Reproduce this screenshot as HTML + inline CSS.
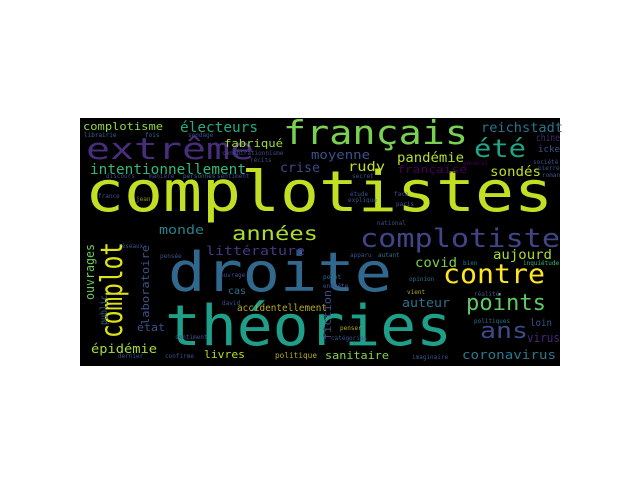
<!DOCTYPE html>
<html><head><meta charset="utf-8"><style>
html,body{margin:0;padding:0;background:#fff;width:640px;height:480px;overflow:hidden}
svg{display:block}
text{font-family:"DejaVu Sans Mono","Liberation Mono",monospace}
</style></head><body>
<svg width="640" height="480" viewBox="0 0 640 480">
<rect x="80" y="118" width="480" height="248" fill="#000"/>
<g>
<text x="85" y="211" font-size="56" fill="#c2df23" textLength="468" lengthAdjust="spacingAndGlyphs">complotistes</text>
<text x="168" y="291" font-size="54" fill="#31688e" textLength="224" lengthAdjust="spacingAndGlyphs">droite</text>
<text x="165" y="345" font-size="56" fill="#1f9e89" textLength="287" lengthAdjust="spacingAndGlyphs">théories</text>
<text x="283" y="144" font-size="33" fill="#7ad151" textLength="185" lengthAdjust="spacingAndGlyphs">français</text>
<text x="86" y="159" font-size="29" fill="#472d7b" textLength="168" lengthAdjust="spacingAndGlyphs">extrême</text>
<text x="360" y="247" font-size="26" fill="#414487" textLength="200" lengthAdjust="spacingAndGlyphs">complotiste</text>
<text transform="translate(122,338) rotate(-90)" font-size="30" fill="#dde318" textLength="96" lengthAdjust="spacingAndGlyphs">complot</text>
<text x="443" y="283" font-size="27" fill="#fde725" textLength="102" lengthAdjust="spacingAndGlyphs">contre</text>
<text x="466" y="310" font-size="22" fill="#5ec962" textLength="80" lengthAdjust="spacingAndGlyphs">points</text>
<text x="480" y="338" font-size="22" fill="#3e4a89" textLength="48" lengthAdjust="spacingAndGlyphs">ans</text>
<text x="474" y="157" font-size="25" fill="#20a386" textLength="52" lengthAdjust="spacingAndGlyphs">été</text>
<text x="232" y="240" font-size="19" fill="#addc30" textLength="86" lengthAdjust="spacingAndGlyphs">années</text>
<text x="90" y="174" font-size="14" fill="#35b779" textLength="156" lengthAdjust="spacingAndGlyphs">intentionnellement</text>
<text x="180" y="132" font-size="14" fill="#25ab82" textLength="78" lengthAdjust="spacingAndGlyphs">électeurs</text>
<text x="83" y="130" font-size="11" fill="#8fd744" textLength="80" lengthAdjust="spacingAndGlyphs">complotisme</text>
<text x="224" y="147" font-size="11" fill="#a0da39" textLength="59" lengthAdjust="spacingAndGlyphs">fabriqué</text>
<text x="280" y="172" font-size="13" fill="#3e4a89" textLength="40" lengthAdjust="spacingAndGlyphs">crise</text>
<text x="311" y="159" font-size="12" fill="#3b528b" textLength="59" lengthAdjust="spacingAndGlyphs">moyenne</text>
<text x="397" y="162" font-size="13" fill="#b5de2b" textLength="67" lengthAdjust="spacingAndGlyphs">pandémie</text>
<text x="481" y="132" font-size="13" fill="#2c728e" textLength="82" lengthAdjust="spacingAndGlyphs">reichstadt</text>
<text x="348" y="171" font-size="13" fill="#c2df23" textLength="37" lengthAdjust="spacingAndGlyphs">rudy</text>
<text x="490" y="176" font-size="13" fill="#bddf26" textLength="51" lengthAdjust="spacingAndGlyphs">sondés</text>
<text x="397" y="173" font-size="11" fill="#440154" textLength="70" lengthAdjust="spacingAndGlyphs">française</text>
<text x="536" y="141" font-size="10" fill="#3b2e70" textLength="24" lengthAdjust="spacingAndGlyphs">chine</text>
<text x="538" y="152" font-size="9" fill="#3b528b" textLength="22" lengthAdjust="spacingAndGlyphs">icke</text>
<text x="159" y="234" font-size="12" fill="#26828e" textLength="45" lengthAdjust="spacingAndGlyphs">monde</text>
<text x="206" y="255" font-size="12" fill="#443983" textLength="99" lengthAdjust="spacingAndGlyphs">littérature</text>
<text transform="translate(94,300) rotate(-90)" font-size="12" fill="#6ccd5a" textLength="56" lengthAdjust="spacingAndGlyphs">ouvrages</text>
<text transform="translate(107,325) rotate(-90)" font-size="10" fill="#365c8d" textLength="30" lengthAdjust="spacingAndGlyphs">public</text>
<text transform="translate(149,325) rotate(-90)" font-size="11" fill="#3b528b" textLength="80" lengthAdjust="spacingAndGlyphs">laboratoire</text>
<text transform="translate(331,340) rotate(-90)" font-size="11" fill="#3e4989" textLength="50" lengthAdjust="spacingAndGlyphs">fiction</text>
<text x="228" y="294" font-size="10" fill="#2c728e" textLength="18" lengthAdjust="spacingAndGlyphs">cas</text>
<text x="137" y="331" font-size="11" fill="#3b528b" textLength="28" lengthAdjust="spacingAndGlyphs">etat</text>
<text x="91" y="353" font-size="12" fill="#a5db36" textLength="66" lengthAdjust="spacingAndGlyphs">épidémie</text>
<text x="204" y="358" font-size="11" fill="#b8de29" textLength="41" lengthAdjust="spacingAndGlyphs">livres</text>
<text x="237" y="311" font-size="10" fill="#b9a91b" textLength="90" lengthAdjust="spacingAndGlyphs">accidentellement</text>
<text x="275" y="358" font-size="8" fill="#b9a91b" textLength="42" lengthAdjust="spacingAndGlyphs">politique</text>
<text x="402" y="307" font-size="12" fill="#2d708e" textLength="48" lengthAdjust="spacingAndGlyphs">auteur</text>
<text x="415" y="267" font-size="13" fill="#7ad151" textLength="42" lengthAdjust="spacingAndGlyphs">covid</text>
<text x="493" y="259" font-size="13" fill="#a8db34" textLength="59" lengthAdjust="spacingAndGlyphs">aujourd</text>
<text x="325" y="359" font-size="11" fill="#84d44b" textLength="64" lengthAdjust="spacingAndGlyphs">sanitaire</text>
<text x="462" y="359" font-size="12" fill="#2a788e" textLength="94" lengthAdjust="spacingAndGlyphs">coronavirus</text>
<text x="527" y="342" font-size="12" fill="#482878" textLength="33" lengthAdjust="spacingAndGlyphs">virus</text>
<text x="530" y="326" font-size="10" fill="#3b528b" textLength="22" lengthAdjust="spacingAndGlyphs">loin</text>
<g font-size="6">
<text x="84" y="137" fill="#31688e">librairie</text>
<text x="145" y="137" fill="#31688e">fois</text>
<text x="188" y="137" fill="#3e4a89">sondage</text>
<text x="222" y="155" fill="#3e4a89">conspirationnisme</text>
<text x="250" y="162" fill="#3e4a89">récits</text>
<text x="106" y="178" fill="#3e4a89">discours</text>
<text x="149" y="178" fill="#3e4a89">manière</text>
<text x="183" y="178" fill="#31688e">personnes</text>
<text x="217" y="178" fill="#3e4a89">sentiment</text>
<text x="98" y="198" fill="#3b528b">france</text>
<text x="136" y="201" fill="#8f8f20">jean</text>
<text x="352" y="178" fill="#3b528b">secret</text>
<text x="350" y="196" fill="#3b528b">étude</text>
<text x="348" y="202" fill="#3b528b">explique</text>
<text x="394" y="196" fill="#3b528b">face</text>
<text x="396" y="206" fill="#3b528b">paris</text>
<text x="377" y="225" fill="#3b528b">national</text>
<text x="463" y="165" fill="#440154">général</text>
<text x="533" y="164" fill="#3b528b">société</text>
<text x="538" y="170" fill="#3b528b">pierre</text>
<text x="542" y="177" fill="#3b528b">roman</text>
<text x="118" y="248" fill="#3b528b">réseaux</text>
<text x="160" y="258" fill="#3b528b">pensée</text>
<text x="220" y="277" fill="#3b528b">ouvrage</text>
<text x="222" y="305" fill="#3b528b">david</text>
<text x="175" y="339" fill="#3b528b">sentiment</text>
<text x="118" y="358" fill="#3b528b">dernier</text>
<text x="165" y="358" fill="#3b528b">confirme</text>
<text x="350" y="257" fill="#3b528b">apparu</text>
<text x="378" y="257" fill="#2c728e">autant</text>
<text x="463" y="265" fill="#2a788e">bien</text>
<text x="523" y="265" fill="#35b779">inquiétude</text>
<text x="323" y="279" fill="#2c728e">point</text>
<text x="409" y="281" fill="#2c728e">opinion</text>
<text x="323" y="288" fill="#3b528b">enquête</text>
<text x="407" y="294" fill="#b9a91b">vient</text>
<text x="474" y="296" fill="#3b528b">réalité</text>
<text x="474" y="323" fill="#2c728e">politiques</text>
<text x="340" y="330" fill="#b9a91b">penser</text>
<text x="331" y="340" fill="#3b528b">catégories</text>
<text x="412" y="359" fill="#3b528b">imaginaire</text>
</g>
</g>
</svg>
</body></html>
